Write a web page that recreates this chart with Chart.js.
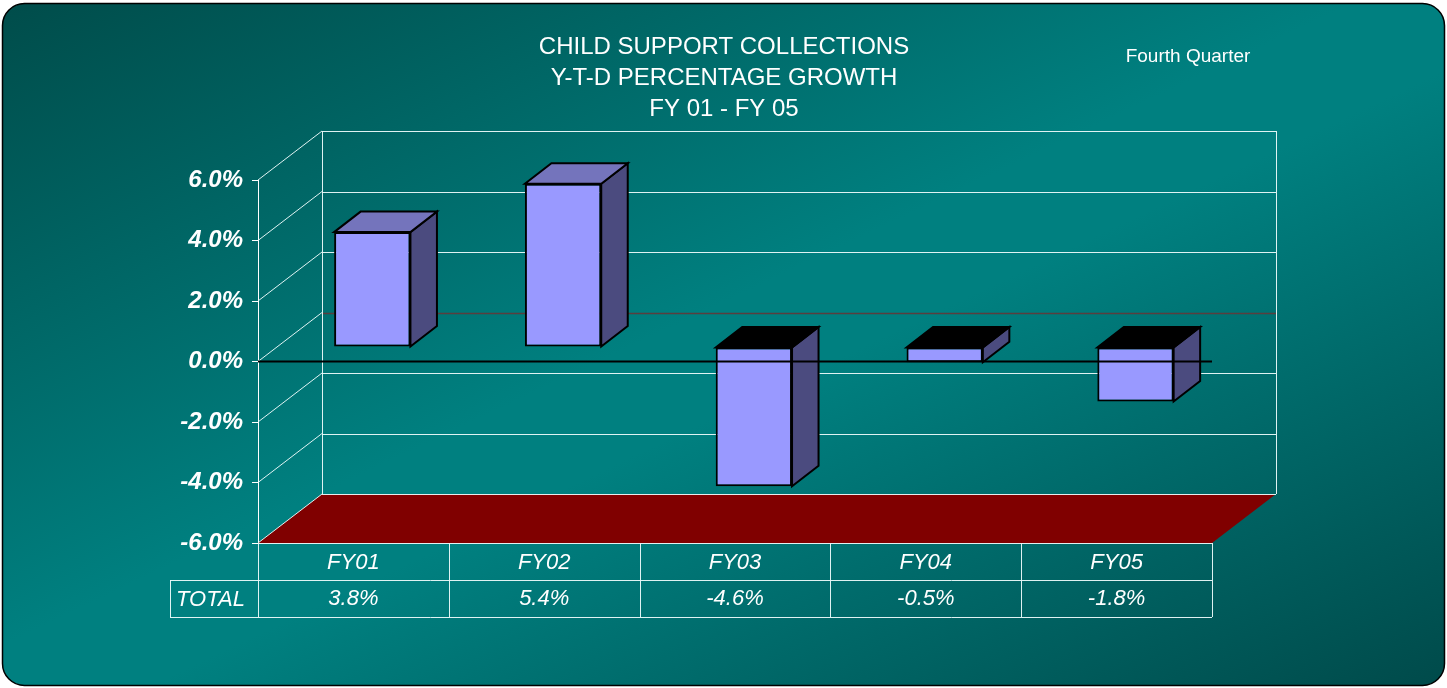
<!DOCTYPE html>
<html>
<head>
<meta charset="utf-8">
<script src="https://cdn.jsdelivr.net/npm/chart.js@4"></script>
<style>
  html, body { margin: 0; padding: 0; background: #ffffff; overflow: hidden; }
  canvas { display: block; }
</style>
</head>
<body>
<canvas id="c" width="1447" height="688"></canvas>
<script>
// ---- data ----
const categories = ['FY01', 'FY02', 'FY03', 'FY04', 'FY05'];
const growth = [3.8, 5.4, -4.6, -0.5, -1.8];
const tableRowLabel = 'TOTAL';
const titleLines = ['CHILD SUPPORT COLLECTIONS', 'Y-T-D PERCENTAGE GROWTH', 'FY 01 - FY 05'];
const cornerNote = 'Fourth Quarter';
const yMin = -6, yMax = 6, yStep = 2;

// ---- style constants ----
const FONT = '"Liberation Sans", Arial, sans-serif';
const WALL = { dx: 64, dy: -49 };         // depth of the 3D box
const BAR_FRONT = 0.295;                   // depth fraction of bars' front face
const BAR_DEPTH = { dx: 26.5, dy: -20.5 }; // bar depth
const Y_AXIS_W = 88;

const fmtPct = v => v.toFixed(1) + '%';

const backgroundPlugin = {
  id: 'bg',
  beforeDraw(chart) {
    const ctx = chart.ctx;
    const W = chart.width, H = chart.height;
    ctx.save();
    ctx.fillStyle = '#ffffff';
    ctx.fillRect(0, 0, W, H);
    // gradient whose iso-lines run parallel to the top-right / bottom-left diagonal
    const t = 2 * W * H / (W * W + H * H);
    const g = ctx.createLinearGradient(0, 0, H * t, W * t);
    g.addColorStop(0, '#004c4a');
    g.addColorStop(0.47, '#008080');
    g.addColorStop(0.55, '#008080');
    g.addColorStop(1, '#004a4a');
    ctx.beginPath();
    ctx.roundRect(2.5, 3.5, W - 5, H - 6, 22);
    ctx.fillStyle = g;
    ctx.fill();
    ctx.lineWidth = 1.5;
    ctx.strokeStyle = '#000';
    ctx.stroke();

    // titles
    ctx.fillStyle = '#ffffff';
    ctx.textAlign = 'center';
    ctx.textBaseline = 'middle';
    ctx.font = '24px ' + FONT;
    titleLines.forEach((tx, i) => ctx.fillText(tx, 724, 47 + i * 31));
    ctx.font = '19px ' + FONT;
    ctx.fillText(cornerNote, 1188, 57);
    ctx.restore();
  }
};

const box3dPlugin = {
  id: 'box3d',
  beforeDatasetsDraw(chart) {
    const ctx = chart.ctx;
    const a = chart.chartArea;
    const ys = chart.scales.y;
    ctx.save();
    // floor
    ctx.beginPath();
    ctx.moveTo(a.left, a.bottom);
    ctx.lineTo(a.right, a.bottom);
    ctx.lineTo(a.right + WALL.dx, a.bottom + WALL.dy);
    ctx.lineTo(a.left + WALL.dx, a.bottom + WALL.dy);
    ctx.closePath();
    ctx.fillStyle = '#800000';
    ctx.fill();

    // back wall grid lines and diagonals
    ys.ticks.forEach(t => {
      const py = ys.getPixelForValue(t.value);
      const by = Math.round(py + WALL.dy) + 0.5;
      ctx.beginPath();
      ctx.moveTo(a.left + WALL.dx, by);
      ctx.lineTo(a.right + WALL.dx, by);
      if (t.value === 0) { ctx.strokeStyle = '#5a3e3e'; ctx.lineWidth = 1.5; }
      else { ctx.strokeStyle = 'rgba(235,250,250,0.95)'; ctx.lineWidth = 1; }
      ctx.stroke();
      ctx.beginPath();
      ctx.moveTo(a.left, py);
      ctx.lineTo(a.left + WALL.dx, py + WALL.dy);
      ctx.strokeStyle = 'rgba(235,250,250,0.95)';
      ctx.lineWidth = 1;
      ctx.stroke();
    });
    // wall vertical edges
    ctx.strokeStyle = 'rgba(235,250,250,0.95)';
    ctx.lineWidth = 1;
    [a.left + WALL.dx, a.right + WALL.dx].forEach(x => {
      const xx = Math.round(x) + 0.5;
      ctx.beginPath();
      ctx.moveTo(xx, a.top + WALL.dy);
      ctx.lineTo(xx, a.bottom + WALL.dy);
      ctx.stroke();
    });
    ctx.restore();

    // shift bars to their depth
    ctx.save();
    ctx.translate(WALL.dx * BAR_FRONT, WALL.dy * BAR_FRONT);
  },
  afterDatasetsDraw(chart) {
    const ctx = chart.ctx;
    const meta = chart.getDatasetMeta(0);
    meta.data.forEach((bar, i) => {
      const p = bar.getProps(['x', 'y', 'base', 'width'], true);
      const L = p.x - p.width / 2, R = p.x + p.width / 2;
      const top = Math.min(p.y, p.base), bot = Math.max(p.y, p.base);
      const neg = growth[i] < 0;
      ctx.lineWidth = 2;
      ctx.strokeStyle = '#000';
      ctx.lineJoin = 'miter';
      // side face
      ctx.beginPath();
      ctx.moveTo(R, top);
      ctx.lineTo(R + BAR_DEPTH.dx, top + BAR_DEPTH.dy);
      ctx.lineTo(R + BAR_DEPTH.dx, bot + BAR_DEPTH.dy);
      ctx.lineTo(R, bot);
      ctx.closePath();
      ctx.fillStyle = '#4b4b7f';
      ctx.fill();
      ctx.stroke();
      // top face
      ctx.beginPath();
      ctx.moveTo(L, top);
      ctx.lineTo(R, top);
      ctx.lineTo(R + BAR_DEPTH.dx, top + BAR_DEPTH.dy);
      ctx.lineTo(L + BAR_DEPTH.dx, top + BAR_DEPTH.dy);
      ctx.closePath();
      ctx.fillStyle = neg ? '#000000' : '#7474bc';
      ctx.fill();
      ctx.stroke();
    });
    ctx.restore();

    // zero line on the front plane
    const a = chart.chartArea;
    const y0 = chart.scales.y.getPixelForValue(0);
    ctx.save();
    ctx.beginPath();
    ctx.moveTo(a.left, y0);
    ctx.lineTo(a.right, y0);
    ctx.strokeStyle = '#000';
    ctx.lineWidth = 2;
    ctx.stroke();
    ctx.restore();
  },
  afterDraw(chart) {
    // data table
    const ctx = chart.ctx;
    const a = chart.chartArea;
    const xs = chart.scales.x;
    const colW = (a.right - a.left) / categories.length;
    const r0 = a.bottom, r1 = a.bottom + 37, r2 = a.bottom + 73.5;
    const tl = a.left - Y_AXIS_W;
    ctx.save();
    ctx.strokeStyle = 'rgba(235,250,250,0.95)';
    ctx.lineWidth = 1;
    const hl = (x1, x2, y) => { ctx.beginPath(); ctx.moveTo(x1, Math.round(y) + 0.5); ctx.lineTo(x2, Math.round(y) + 0.5); ctx.stroke(); };
    const vl = (x, y1, y2) => { ctx.beginPath(); ctx.moveTo(Math.round(x) + 0.5, y1); ctx.lineTo(Math.round(x) + 0.5, y2); ctx.stroke(); };
    hl(a.left, a.right, r0);
    hl(tl, a.right, r1);
    hl(tl, a.right, r2);
    vl(tl, r1, r2 + 0.5);
    for (let i = 0; i <= categories.length; i++) vl(a.left + i * colW, r0, r2 + 0.5);

    ctx.fillStyle = '#ffffff';
    ctx.font = 'italic 22px ' + FONT;
    ctx.textBaseline = 'middle';
    ctx.textAlign = 'center';
    categories.forEach((c, i) => {
      const cx = xs.getPixelForValue(i);
      ctx.fillText(c, cx, (r0 + r1) / 2 + 1);
      ctx.fillText(fmtPct(growth[i]), cx, (r1 + r2) / 2 + 1);
    });
    ctx.textAlign = 'left';
    ctx.fillText(tableRowLabel, tl + 6, (r1 + r2) / 2 + 2);
    ctx.restore();
  }
};

new Chart(document.getElementById('c'), {
  type: 'bar',
  data: {
    labels: categories,
    datasets: [{
      data: growth,
      backgroundColor: '#9999ff',
      borderColor: '#000000',
      borderWidth: 2,
      borderSkipped: false,
      barPercentage: 0.4,
      categoryPercentage: 1.0,
      clip: false
    }]
  },
  options: {
    responsive: false,
    animation: false,
    devicePixelRatio: 1,
    layout: { padding: { left: 170, right: 235, top: 180, bottom: 145 } },
    plugins: { legend: { display: false }, title: { display: false }, tooltip: { enabled: false } },
    scales: {
      x: { display: false, offset: true },
      y: {
        min: yMin, max: yMax,
        afterFit(scale) { scale.width = Y_AXIS_W; },
        ticks: {
          stepSize: yStep,
          callback: v => fmtPct(v),
          color: '#ffffff',
          padding: 9,
          font: { family: FONT, size: 24, weight: 'bold', style: 'italic' }
        },
        grid: { drawOnChartArea: false, drawTicks: true, tickLength: 6, color: '#ffffff', lineWidth: 1 },
        border: { display: true, color: '#ffffff', width: 1 }
      }
    }
  },
  plugins: [backgroundPlugin, box3dPlugin]
});
</script>
</body>
</html>
